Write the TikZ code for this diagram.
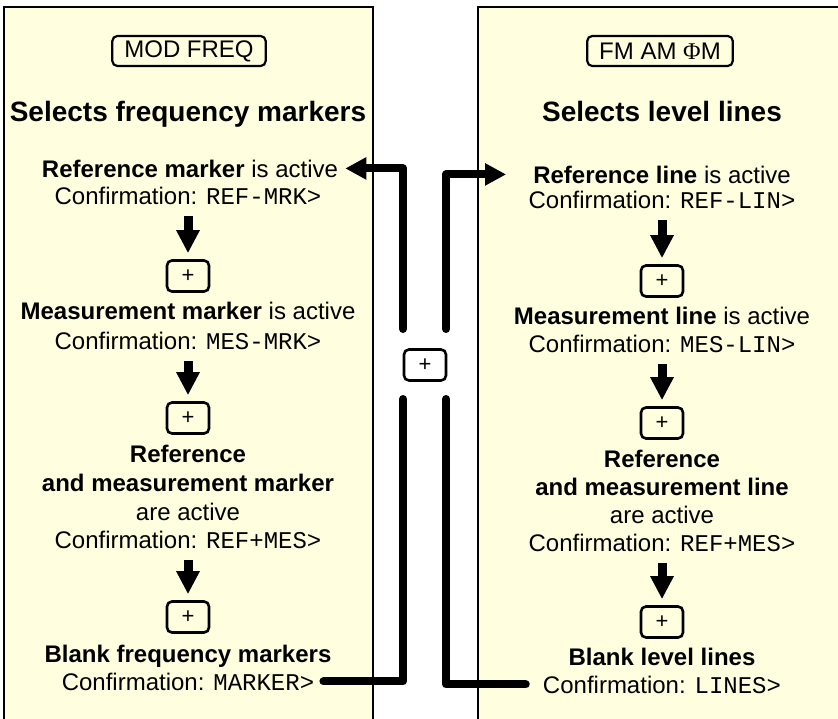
\documentclass[tikz,border=0pt]{standalone}
\usepackage{fontspec}
\setmainfont{Liberation Sans}
\setmonofont{Liberation Mono}
\newfontfamily\phifont{Liberation Serif}
\usepackage{tikz}
\usetikzlibrary{arrows.meta,positioning}
\definecolor{panelyellow}{RGB}{255,255,224}
\newcommand{\confline}[1]{Confirmation: \texttt{#1}}

\begin{document}
\begin{tikzpicture}[x=1pt,y=-1pt,
  panel/.style={fill=panelyellow},
  border/.style={line width=1.3pt},
  keybox/.style={draw,line width=2.2pt,rounded corners=5pt,minimum height=30pt,inner xsep=12pt,font=\fontsize{24}{28}\selectfont},
  plusbox/.style={draw,line width=2.6pt,rounded corners=5pt,minimum width=42pt,minimum height=31pt,inner sep=0pt,font=\fontsize{22}{24}\selectfont},
  heading/.style={anchor=base,font=\bfseries\fontsize{28}{32}\selectfont},
  txt/.style={anchor=base,inner sep=3pt,font=\fontsize{24}{28}\selectfont},
  flow/.style={line width=9pt,shorten <=9pt,shorten >=6pt,-{Triangle[length=23pt,width=22pt]}},
  loopline/.style={line width=8pt,line cap=round,line join=round},
  looparrow/.style={loopline,-{Triangle[length=21pt,width=21pt]}}]
  \useasboundingbox (0,0) rectangle (838,718);
  % Panels
  \fill[panel] (4,7) rectangle (373,720);
  \draw[border] (4,720) -- (4,7) -- (373,7) -- (373,720);
  \fill[panel] (478,7) rectangle (840,720);
  \draw[border] (478,720) -- (478,7) -- (840,7);
  % Left panel
  \node[keybox] (lkey) at (189,51) {MOD FREQ};
  \node[heading] (lhead) at (188,121) {Selects frequency markers};
  \node[txt] (lrefA) at (190,177) {\textbf{Reference marker} is active};
  \node[txt] (lrefC) at (188,204) {\confline{REF-MRK>}};
  \node[plusbox] (lplusA) at (188,276) {+};
  \node[txt] (lmesA) at (188,319) {\textbf{Measurement marker} is active};
  \node[txt] (lmesC) at (188,349) {\confline{MES-MRK>}};
  \node[plusbox] (lplusB) at (188,418) {+};
  \node[txt] (lbothA) at (188,462) {\textbf{Reference}};
  \node[txt] (lbothB) at (188,491) {\textbf{and measurement marker}};
  \node[txt] (lbothC) at (188,520) {are active};
  \node[txt] (lbothD) at (188,548) {\confline{REF+MES>}};
  \node[plusbox] (lplusC) at (188,617) {+};
  \node[txt] (lblankA) at (188,662) {\textbf{Blank frequency markers}};
  \node[txt] (lblankC) at (188,690) {\confline{MARKER>}};
  \draw[flow] (lrefC) -- (lplusA);
  \draw[flow] (lmesC) -- (lplusB);
  \draw[flow] (lbothD) -- (lplusC);
  % Right panel
  \node[keybox] (rkey) at (660,51) {FM AM {\phifont Φ}M};
  \node[heading] (rhead) at (662,121) {Selects level lines};
  \node[txt] (rrefA) at (662,183) {\textbf{Reference line} is active};
  \node[txt] (rrefC) at (662,208) {\confline{REF-LIN>}};
  \node[plusbox] (rplusA) at (662,281) {+};
  \node[txt] (rmesA) at (662,324) {\textbf{Measurement line} is active};
  \node[txt] (rmesC) at (662,352) {\confline{MES-LIN>}};
  \node[plusbox] (rplusB) at (662,423) {+};
  \node[txt] (rbothA) at (662,467) {\textbf{Reference}};
  \node[txt] (rbothB) at (662,495) {\textbf{and measurement line}};
  \node[txt] (rbothC) at (662,523) {are active};
  \node[txt] (rbothD) at (662,551) {\confline{REF+MES>}};
  \node[plusbox] (rplusC) at (662,622) {+};
  \node[txt] (rblankA) at (662,665) {\textbf{Blank level lines}};
  \node[txt] (rblankC) at (662,693) {\confline{LINES>}};
  \draw[flow] (rrefC) -- (rplusA);
  \draw[flow] (rmesC) -- (rplusB);
  \draw[flow] (rbothD) -- (rplusC);
  % Middle key and loops
  \node[plusbox] (mplus) at (425,365) {+};
  \coordinate (lgapU) at (403,329);
  \coordinate (lgapD) at (403,399);
  \coordinate (rgapU) at (446,329);
  \coordinate (rgapD) at (446,399);
  \draw[loopline] ([xshift=6pt]lblankC.east) -| (lgapD);
  \draw[looparrow,shorten >=4pt] (lgapU) |- (lrefA.east);
  \draw[loopline] ([xshift=-14pt]rblankC.west) -| (rgapD);
  \draw[looparrow,shorten >=24pt] (rgapU) |- (rrefA.west);
\end{tikzpicture}
\end{document}
